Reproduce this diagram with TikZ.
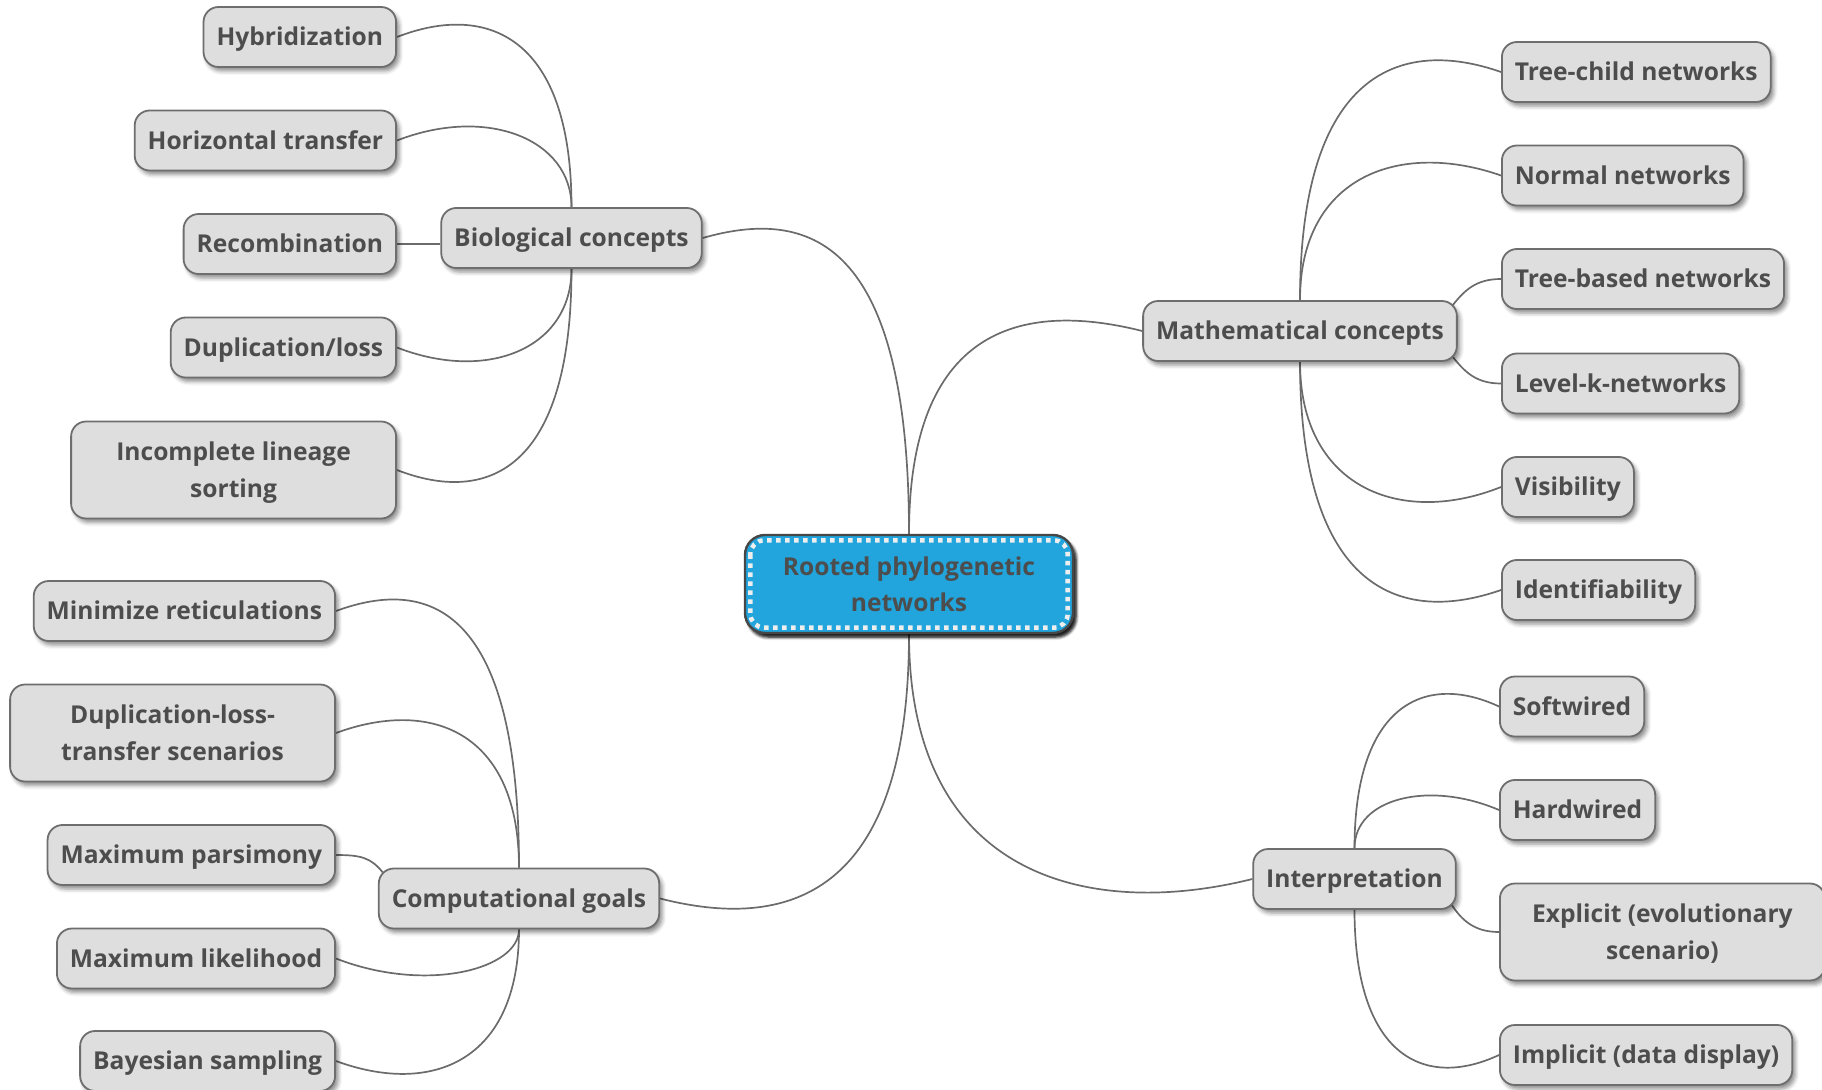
\documentclass[tikz,border=0pt]{standalone}
\usepackage{fontspec}
\setmainfont{Open Sans}
\usetikzlibrary{shadows.blur,backgrounds,calc}

\definecolor{boxfill}{HTML}{DEDEDE}
\definecolor{boxline}{HTML}{6E6E6E}
\definecolor{ink}{HTML}{4D4D4D}
\definecolor{wire}{HTML}{6B6B6B}
\definecolor{rootblue}{HTML}{21A5DC}
\definecolor{rootdash}{HTML}{EEEEEE}

% fixed line strut so every label sits on the same optical centre
\newcommand\labelstrut{\rule[-7pt]{0pt}{31.5pt}}

\tikzset{
  topic/.style={rectangle, rounded corners=15pt, draw=boxline, line width=1.8pt,
    fill=boxfill, text=ink, font=\fontsize{24.6}{37}\selectfont\bfseries,
    execute at begin node=\labelstrut, execute at end node=\labelstrut,
    inner xsep=13pt, inner ysep=0pt, minimum height=60pt, align=center,
    blur shadow={shadow xshift=3pt, shadow yshift=-4pt, shadow blur radius=4pt, shadow opacity=45}},
  twoline/.style={topic, minimum width=325pt, minimum height=97pt, text depth=0pt},
  rootbox/.style={topic, fill=rootblue, draw=black!72, line width=2.4pt,
    rounded corners=20pt, minimum width=328pt, minimum height=98pt,
    font=\fontsize{24.6}{36}\selectfont\bfseries, text depth=-2pt,
    blur shadow={shadow xshift=3pt, shadow yshift=-4pt, shadow blur radius=3pt, shadow opacity=70}},
  rootframe/.style={draw=rootdash, line width=4.5pt, dash pattern=on 4.5pt off 4.5pt, rounded corners=14pt},
  link/.style={draw=wire, line width=1.7pt},
}

\begin{document}
\begin{tikzpicture}[x=1pt, y=-1pt]
\useasboundingbox (0,0) rectangle (1822,1089);

% central topic
\node[rootbox] (root) at (909,584) {Rooted phylogenetic\\networks};
\draw[rootframe] ($(root.north west)+(6.5,6.5)$) rectangle ($(root.south east)+(-6.5,-6.5)$);

% main branches
\node[topic] (bio)    at (571.5,238) {Biological concepts};
\node[topic] (math)   at (1300,331)  {Mathematical concepts};
\node[topic] (comp)   at (519,898.5) {Computational goals};
\node[topic] (interp) at (1354.5,879) {Interpretation};

% biological concepts
\node[topic, anchor=east] (hyb) at (397,37)    {Hybridization};
\node[topic, anchor=east] (ht)  at (397,140.5) {Horizontal transfer};
\node[topic, anchor=east] (rec) at (397,244)   {Recombination};
\node[topic, anchor=east] (dl)  at (397,347.5) {Duplication/loss};
\node[twoline, anchor=east] (ils) at (397,470) {Incomplete lineage\\sorting};

% computational goals
\node[topic, anchor=east] (mr)  at (336,611)   {Minimize reticulations};
\node[twoline, anchor=east] (dlt) at (336,733) {Duplication-loss-\\transfer scenarios};
\node[topic, anchor=east] (mp)  at (336,855)   {Maximum parsimony};
\node[topic, anchor=east] (ml)  at (336,958.5) {Maximum likelihood};
\node[topic, anchor=east] (bs)  at (336,1061)  {Bayesian sampling};

% mathematical concepts
\node[topic, anchor=west] (tc)  at (1501,72)    {Tree-child networks};
\node[topic, anchor=west] (nor) at (1501,175.5) {Normal networks};
\node[topic, anchor=west] (tb)  at (1501,279)   {Tree-based networks};
\node[topic, anchor=west] (lk)  at (1501,383.5) {Level-k-networks};
\node[topic, anchor=west] (vis) at (1501,487)   {Visibility};
\node[topic, anchor=west] (idf) at (1501,590)   {Identifiability};

% interpretation
\node[topic, anchor=west] (soft) at (1499,706.5) {Softwired};
\node[topic, anchor=west] (hard) at (1499,810)   {Hardwired};
\node[twoline, anchor=west] (expl) at (1499,932) {Explicit (evolutionary\\scenario)};
\node[topic, anchor=west] (impl) at (1499,1055)  {Implicit (data display)};

\begin{pgfonlayer}{background}
  % root to main branches
  \draw[link] (root.north) .. controls +(0,-297) and +(105,-30) .. (bio.east);
  \draw[link] (root.north) .. controls +(0,-204) and +(-123,-31) .. (math.west);
  \draw[link] (root.south) .. controls +(0,265) and +(125,32) .. (comp.east);
  \draw[link] (root.south) .. controls +(0,246) and +(-160,40) .. (interp.west);

  % biological concepts
  \draw[link] (bio.north) .. controls +(0,-171) and +(90,-35) .. (hyb.east);
  \draw[link] (bio.north) .. controls +(0,-68) and +(90,-35) .. (ht.east);
  \draw[link] (rec.east) -- (rec.east -| bio.west);
  \draw[link] (bio.south) .. controls +(0,80) and +(90,35) .. (dl.east);
  \draw[link] (bio.south) .. controls +(0,202) and +(90,35) .. (ils.east);

  % computational goals
  \draw[link] (comp.north) .. controls +(0,-258) and +(95,-35) .. (mr.east);
  \draw[link] (comp.north) .. controls +(0,-136) and +(95,-35) .. (dlt.east);
  \draw[link] (mp.east) .. controls +(25,0) and +(-12,-15) .. ($(comp.north west)+(5,5)$);
  \draw[link] (comp.south) .. controls +(0,40) and +(90,35) .. (ml.east);
  \draw[link] (comp.south) .. controls +(0,133) and +(95,35) .. (bs.east);

  % mathematical concepts
  \draw[link] (math.north) .. controls +(0,-229) and +(-100,-35) .. (tc.west);
  \draw[link] (math.north) .. controls +(0,-125) and +(-100,-35) .. (nor.west);
  \draw[link] ($(math.north east)+(-5,5)$) .. controls +(12,-15) and +(-25,0) .. (tb.west);
  \draw[link] ($(math.south east)+(-5,-5)$) .. controls +(12,15) and +(-25,0) .. (lk.west);
  \draw[link] (math.south) .. controls +(0,126) and +(-100,40) .. (vis.west);
  \draw[link] (math.south) .. controls +(0,229) and +(-100,35) .. (idf.west);

  % interpretation
  \draw[link] (interp.north) .. controls +(0,-142) and +(-75,-35) .. (soft.west);
  \draw[link] (interp.north) .. controls +(0,-50) and +(-70,-30) .. (hard.west);
  \draw[link] ($(interp.south east)+(-5,-5)$) .. controls +(10,15) and +(-25,0) .. (expl.west);
  \draw[link] (interp.south) .. controls +(0,146) and +(-75,35) .. (impl.west);
\end{pgfonlayer}
\end{tikzpicture}
\end{document}
